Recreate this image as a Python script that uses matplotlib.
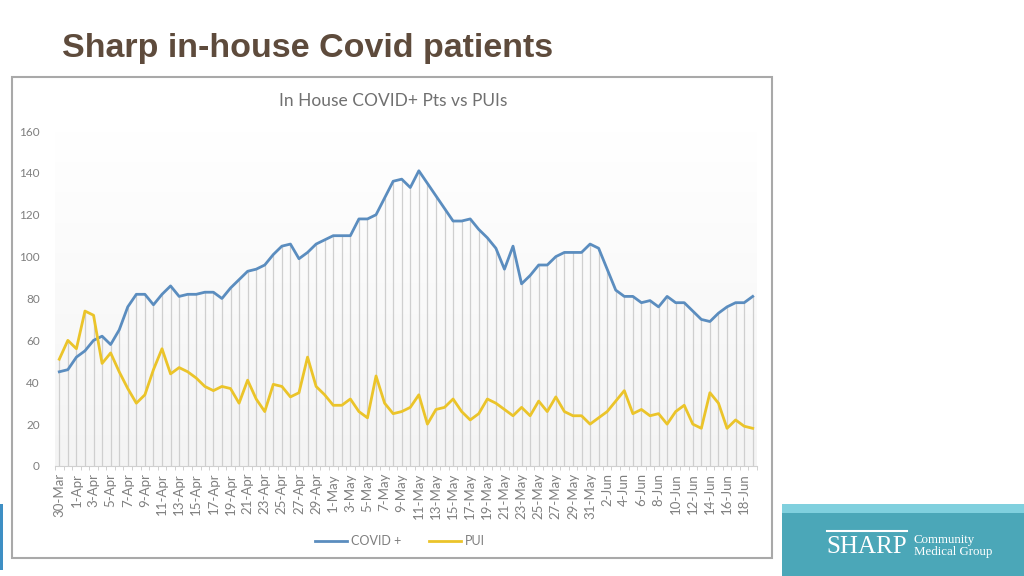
import numpy as np
import pandas as pd
import matplotlib
matplotlib.use("Agg")
import matplotlib.pyplot as plt
from matplotlib.patches import Rectangle
from matplotlib.colors import LinearSegmentedColormap

# categories: one point per day, 30-Mar .. 19-Jun
dates = pd.date_range("2020-03-30", "2020-06-19")
day_labels = [f"{d.day}-{d.strftime('%b')}" for d in dates]

covid = [45, 46, 52, 55, 60, 62, 58, 65, 76, 82, 82, 77, 82, 86, 81, 82, 82, 83, 83, 80,
         85, 89, 93, 94, 96, 101, 105, 106, 99, 102, 106, 108, 110, 110, 110, 118, 118, 120, 128, 136,
         137, 133, 141, 135, 129, 123, 117, 117, 118, 113, 109, 104, 94, 105, 87, 91, 96, 96, 100, 102,
         102, 102, 106, 104, 94, 84, 81, 81, 78, 79, 76, 81, 78, 78, 74, 70, 69, 73, 76, 78,
         78, 81]
pui = [51, 60, 56, 74, 72, 49, 54, 45, 37, 30, 34, 46, 56, 44, 47, 45, 42, 38, 36, 38,
       37, 30, 41, 32, 26, 39, 38, 33, 35, 52, 38, 34, 29, 29, 32, 26, 23, 43, 30, 25,
       26, 28, 34, 20, 27, 28, 32, 26, 22, 25, 32, 30, 27, 24, 28, 24, 31, 26, 33, 26,
       24, 24, 20, 23, 26, 31, 36, 25, 27, 24, 25, 20, 26, 29, 20, 18, 35, 30, 18, 22,
       19, 18]
y_ticks = [0, 20, 40, 60, 80, 100, 120, 140, 160]

W, H = 1024, 576
fig = plt.figure(figsize=(W / 100, H / 100), dpi=100)
fig.patch.set_facecolor("white")

# slide title
fig.text(62 / W, 1 - 48 / H, "Sharp in-house Covid patients", fontsize=24.5, weight="bold",
         color="#5E4B3C", family="Liberation Sans", va="center", ha="left")

# embedded chart frame
fig.patches.append(Rectangle((12 / W, 1 - 558 / H), 760 / W, 481 / H, transform=fig.transFigure,
                             facecolor="white", edgecolor="#a9a9a9", lw=1.5, zorder=-1))

ax = fig.add_axes([55 / W, 1 - 466 / H, 702 / W, 335 / H])
ax.set_zorder(2)
x = np.arange(len(covid))
grey = "#7f7f7f"

# very faint white -> grey fade down the plot area
bg = LinearSegmentedColormap.from_list("bg", ["#ffffff", "#f4f4f4"])
ax.imshow(np.linspace(0, 1, 256).reshape(-1, 1), cmap=bg, aspect="auto",
          extent=[-0.5, len(x) - 0.5, 0, 160], zorder=0)

# drop lines down from the higher series
ax.vlines(x, 0, np.maximum(covid, pui), color="#cfcfcf", lw=0.9, zorder=1)
ax.plot(x, covid, color="#5B8DBF", lw=2.0, label="COVID +", zorder=3)
ax.plot(x, pui, color="#EBC42A", lw=2.0, label="PUI", zorder=3)

ax.set_xlim(-0.5, len(x) - 0.5)
ax.set_ylim(0, 160)
ax.set_yticks(y_ticks)
ax.set_xticks(x[::2])
ax.set_xticklabels(day_labels[::2], rotation=90, fontsize=9.5, color=grey, family="Lato")
ax.set_xticks(np.arange(len(x) + 1) - 0.5, minor=True)
for lab in ax.get_yticklabels():
    lab.set_family("Lato")
ax.tick_params(axis="y", length=0, labelsize=8.5, labelcolor=grey, pad=11)
ax.tick_params(axis="x", which="major", length=0, pad=5)
ax.tick_params(axis="x", which="minor", length=3, color="#d0d0d0", width=0.7)
for side in ["top", "right", "left"]:
    ax.spines[side].set_visible(False)
ax.spines["bottom"].set_color("#d0d0d0")
ax.set_facecolor("white")

fig.text(393 / W, 1 - 101 / H, "In House COVID+ Pts vs PUIs", fontsize=12.5, color="#707070",
         family="Lato", ha="center", va="center")

h, l = ax.get_legend_handles_labels()
fig.legend(h, l, loc="center", bbox_to_anchor=(400 / W, 1 - 541 / H), ncol=2, frameon=False,
           prop={"family": "Lato", "size": 9}, labelcolor=grey, handlelength=2.6,
           columnspacing=2.2, handletextpad=0.3)

# logo block, bottom right
fig.patches.append(Rectangle((782 / W, 0), (W - 782) / W, 63 / H, transform=fig.transFigure,
                             facecolor="#4BA7B8", edgecolor="none"))
fig.patches.append(Rectangle((782 / W, 63 / H), (W - 782) / W, 9 / H, transform=fig.transFigure,
                             facecolor="#80D0DE", edgecolor="none"))
fig.patches.append(Rectangle((0, 6 / H), 3 / W, 66 / H, transform=fig.transFigure,
                             facecolor="#3E8FC4", edgecolor="none"))
fig.text(826 / W, 1 - 547 / H, "SHARP", fontsize=18, color="white", family="Liberation Serif",
         ha="left", va="center")
fig.add_artist(plt.Line2D([827 / W, 907 / W], [1 - 531 / H] * 2, color="white", lw=1.5))
fig.text(914 / W, 1 - 546 / H, "Community\nMedical Group", fontsize=9.3, color="white",
         family="Liberation Serif", ha="left", va="center", linespacing=0.95)

fig.savefig("out.png", dpi=100)
